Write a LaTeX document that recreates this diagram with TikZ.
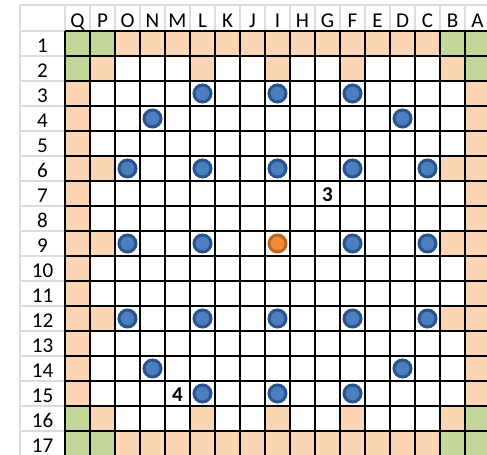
\documentclass[tikz,border=0pt]{standalone}
\usepackage{fontspec}
\setmainfont{Carlito}
\usetikzlibrary{positioning}
\definecolor{cellpch}{RGB}{252,213,180}
\definecolor{cellgrn}{RGB}{196,215,155}
\definecolor{dotblu}{RGB}{74,126,190}
\definecolor{dotbrd}{RGB}{44,84,140}
\definecolor{dotorg}{RGB}{240,140,55}
\definecolor{dotobrd}{RGB}{190,102,32}
\definecolor{hdrgrey}{RGB}{218,220,221}
\tikzset{
  pchcell/.style = {fill=cellpch},
  grncell/.style = {fill=cellgrn},
  gridln/.style  = {line width=0.04cm, black},
  hdrln/.style   = {line width=0.04cm, hdrgrey},
  hdrlbl/.style  = {anchor=base, inner sep=0pt,
                    font=\fontsize{12}{14}\selectfont},
  numlbl/.style  = {inner sep=0pt, font=\fontsize{12}{14}\selectfont\bfseries},
  bludot/.style  = {circle, draw=dotbrd, fill=dotblu, line width=0.06cm,
                    minimum size=0.34cm, inner sep=0pt},
  orgdot/.style  = {bludot, draw=dotobrd, fill=dotorg},
}

\begin{document}
\begin{tikzpicture}[x=0.02cm, y=-0.02cm]
    \useasboundingbox (0,0) rectangle (487,455);
    \clip (0,0) rectangle (487,455);
    \fill[white] (0,0) rectangle (487,455);
    % corner cells
    \foreach \c/\r in {0/1,1/1,15/1,16/1,0/2,16/2,0/16,16/16,0/17,1/17,15/17,16/17}
      \fill[grncell] (65+25*\c,6+25*\r) rectangle ++(25,25);
    % top and bottom rows
    \foreach \c in {2,...,14} {
      \fill[pchcell] (65+25*\c,31) rectangle ++(25,25);
      \fill[pchcell] (65+25*\c,431) rectangle ++(25,25);
    }
    \foreach \c in {1,5,8,11,15} {
      \fill[pchcell] (65+25*\c,56) rectangle ++(25,25);
      \fill[pchcell] (65+25*\c,406) rectangle ++(25,25);
    }
    % side columns
    \foreach \r in {3,...,15} {
      \fill[pchcell] (65,6+25*\r) rectangle ++(25,25);
      \fill[pchcell] (465,6+25*\r) rectangle ++(25,25);
    }
    \foreach \r in {6,9,12} {
      \fill[pchcell] (90,6+25*\r) rectangle ++(25,25);
      \fill[pchcell] (440,6+25*\r) rectangle ++(25,25);
    }
    % header lines
    \draw[hdrln] (20,5) -- (490,5);
    \draw[hdrln] (20,5) -- (20,460);
    \foreach \k in {0,...,17}
      \draw[hdrln] (65+25*\k,5) -- (65+25*\k,31);
    \foreach \k in {0,...,17}
      \draw[hdrln] (20,31+25*\k) -- (65,31+25*\k);
    % board grid
    \foreach \k in {0,...,17} {
      \draw[gridln] (65+25*\k,31) -- (65+25*\k,460);
      \draw[gridln] (65,31+25*\k) -- (490,31+25*\k);
    }
    % labels
    \foreach \l [count=\c from 0] in {Q,P,O,N,M,L,K,J,I,H,G,F,E,D,C,B,A}
      \node[hdrlbl] (col-\l) at (77.5+25*\c,27.5) {\l};
    \foreach \r in {1,...,17}
      \node[hdrlbl] (row-\r) at (42.5,27.5+25*\r) {\r};
    % stones
    \foreach \c/\r in {5/3,8/3,11/3,3/4,13/4,2/6,5/6,8/6,11/6,14/6,
                       2/9,5/9,11/9,14/9,2/12,5/12,8/12,11/12,14/12,
                       3/14,13/14,5/15,8/15,11/15}
      \node[bludot] (dot-\c-\r) at (77.5+25*\c,18.5+25*\r) {};
    \node[orgdot] (dot-8-9) at (77.5+25*8,18.5+25*9) {};
    \node[numlbl] (num-g7) at (77.5+25*10,20+25*7) {3};
    \node[numlbl] (num-m15) at (77.5+25*4,20+25*15) {4};
\end{tikzpicture}
\end{document}
